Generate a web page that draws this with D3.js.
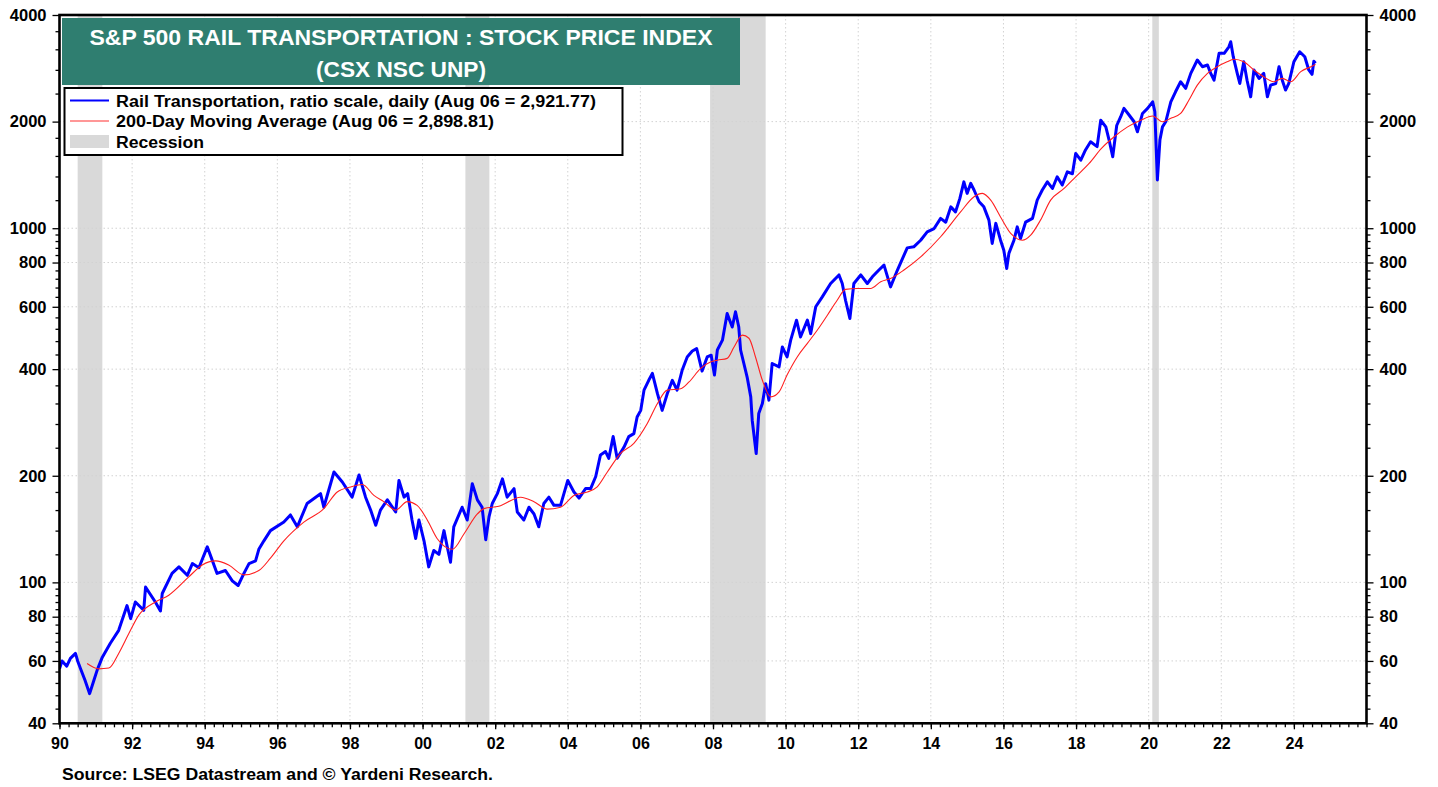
<!DOCTYPE html>
<html>
<head>
<meta charset="utf-8">
<script src="https://cdn.jsdelivr.net/npm/d3@7"></script>
<style>
  body { margin: 0; background: #fff; }
  svg { display: block; font-family: Arial, "Liberation Sans", sans-serif; }
</style>
</head>
<body>
<div id="chart"></div>
<script>
// S&P 500 Rail Transportation index (decimal year, index)
var railPrice = [
	[1990.00, 57], [1990.07, 60], [1990.2, 58], [1990.3, 61], [1990.44, 63], [1990.5, 60],
	[1990.58, 57], [1990.7, 53], [1990.83, 48.5], [1990.95, 53], [1991.04, 56.6], [1991.18, 61.5],
	[1991.40, 67.3], [1991.63, 73.2], [1991.86, 86], [1991.96, 79], [1992.09, 88], [1992.32, 83.4],
	[1992.37, 97], [1992.64, 88], [1992.78, 83], [1992.83, 93], [1993.10, 106], [1993.29, 110.6],
	[1993.52, 104.7], [1993.66, 113], [1993.84, 110], [1994.07, 126], [1994.16, 119], [1994.34, 106],
	[1994.57, 108], [1994.76, 101], [1994.92, 98], [1995.08, 106], [1995.22, 113], [1995.40, 115],
	[1995.49, 124], [1995.63, 131], [1995.81, 140], [1996.18, 148], [1996.36, 155], [1996.55, 143.5],
	[1996.82, 167], [1997.19, 178], [1997.28, 163], [1997.56, 205], [1997.79, 192], [1998.06, 174],
	[1998.25, 201], [1998.43, 174], [1998.57, 160], [1998.71, 145], [1998.84, 160], [1999.03, 171],
	[1999.26, 158], [1999.35, 194], [1999.49, 174], [1999.59, 178], [1999.71, 150], [1999.81, 133],
	[1999.90, 150], [2000.04, 131], [2000.17, 110.6], [2000.31, 123], [2000.45, 120], [2000.59, 140],
	[2000.68, 126], [2000.77, 114], [2000.86, 143.5], [2001.09, 163], [2001.23, 150], [2001.37, 190],
	[2001.51, 171], [2001.64, 163], [2001.74, 132], [2001.83, 153], [2001.92, 167], [2002.06, 178],
	[2002.20, 196], [2002.33, 174], [2002.52, 184], [2002.61, 158], [2002.79, 150], [2002.93, 163],
	[2003.07, 156], [2003.20, 143.5], [2003.34, 167], [2003.48, 174], [2003.62, 165], [2003.80, 165],
	[2004.00, 194], [2004.17, 180], [2004.31, 173], [2004.49, 184], [2004.63, 184], [2004.77, 199],
	[2004.90, 229], [2005.04, 234], [2005.13, 224], [2005.25, 258], [2005.36, 224], [2005.55, 241],
	[2005.68, 258], [2005.82, 263], [2005.91, 293], [2006.01, 306], [2006.10, 349], [2006.23, 372],
	[2006.33, 389], [2006.47, 341], [2006.60, 306], [2006.74, 341], [2006.88, 372], [2007.01, 349],
	[2007.15, 397], [2007.29, 433], [2007.43, 450], [2007.55, 457], [2007.70, 395], [2007.84, 433],
	[2007.95, 438], [2008.04, 385], [2008.12, 453], [2008.26, 483], [2008.39, 574], [2008.53, 526],
	[2008.62, 581], [2008.71, 526], [2008.76, 453], [2008.85, 415], [2008.94, 380], [2009.04, 334],
	[2009.08, 287], [2009.19, 231], [2009.26, 300], [2009.36, 320], [2009.45, 364], [2009.54, 327],
	[2009.63, 415], [2009.82, 406], [2009.91, 462], [2010.04, 433], [2010.14, 483], [2010.30, 550],
	[2010.41, 493], [2010.60, 550], [2010.69, 504], [2010.83, 600], [2011.01, 640], [2011.24, 698],
	[2011.47, 738], [2011.56, 698], [2011.65, 626], [2011.77, 556], [2011.88, 698], [2012.07, 738],
	[2012.25, 698], [2012.39, 729], [2012.57, 762], [2012.71, 787], [2012.89, 683], [2013.08, 762],
	[2013.35, 880], [2013.53, 886], [2013.72, 925], [2013.90, 977], [2014.09, 998], [2014.27, 1066],
	[2014.41, 1040], [2014.55, 1149], [2014.68, 1112], [2014.80, 1214], [2014.91, 1352], [2015.00, 1254],
	[2015.10, 1339], [2015.19, 1282], [2015.33, 1188], [2015.46, 1149], [2015.60, 1054], [2015.69, 906],
	[2015.79, 1032], [2015.92, 925], [2016.01, 867], [2016.09, 770], [2016.15, 849], [2016.29, 925],
	[2016.38, 1009], [2016.47, 935], [2016.61, 1040], [2016.80, 1066], [2016.93, 1200], [2017.07, 1282],
	[2017.21, 1352], [2017.35, 1295], [2017.48, 1397], [2017.62, 1324], [2017.76, 1443], [2017.90, 1425],
	[2017.99, 1626], [2018.13, 1556], [2018.26, 1663], [2018.40, 1754], [2018.58, 1700], [2018.68, 2018],
	[2018.82, 1933], [2018.91, 1774], [2019.01, 1591], [2019.12, 1950], [2019.23, 2065], [2019.32, 2179],
	[2019.46, 2088], [2019.60, 1998], [2019.69, 1872], [2019.83, 2109], [2019.97, 2179], [2020.11, 2275],
	[2020.17, 2133], [2020.24, 1368], [2020.31, 1774], [2020.38, 1933], [2020.47, 1998], [2020.61, 2275],
	[2020.74, 2428], [2020.88, 2592], [2021.02, 2483], [2021.16, 2737], [2021.34, 2985], [2021.48, 2858],
	[2021.62, 2890], [2021.71, 2737], [2021.80, 2618], [2021.94, 3118], [2022.08, 3118], [2022.21, 3253],
	[2022.26, 3363], [2022.33, 3050], [2022.44, 2737], [2022.51, 2563], [2022.62, 2951], [2022.71, 2618],
	[2022.81, 2350], [2022.90, 2798], [2023.04, 2649], [2023.17, 2737], [2023.27, 2350], [2023.36, 2535],
	[2023.50, 2563], [2023.59, 2858], [2023.68, 2618], [2023.77, 2455], [2023.86, 2563], [2024.00, 2951],
	[2024.16, 3150], [2024.30, 3050], [2024.41, 2798], [2024.50, 2720], [2024.55, 2960], [2024.596, 2922]
];

// 200-day moving average
var railMA = [
	[1990.76, 59], [1991.08, 57], [1991.36, 57.3], [1991.63, 63], [1991.91, 71.7], [1992.18, 80.7],
	[1992.64, 88], [1993.01, 92], [1993.56, 103.6], [1993.93, 112], [1994.30, 115], [1994.66, 112],
	[1995.08, 105], [1995.49, 108], [1995.81, 117], [1996.18, 131], [1996.73, 148], [1997.28, 161.5],
	[1997.65, 180], [1998.02, 186], [1998.34, 189], [1998.66, 176], [1998.93, 169], [1999.26, 160],
	[1999.58, 169], [1999.85, 165], [2000.13, 150], [2000.40, 133], [2000.82, 124], [2001.14, 137],
	[2001.51, 156], [2001.69, 161.5], [2002.10, 164], [2002.70, 174], [2003.07, 169], [2003.43, 161],
	[2003.80, 163], [2004.17, 176], [2004.54, 180], [2004.81, 186], [2005.09, 205], [2005.45, 231],
	[2005.82, 247], [2006.19, 281], [2006.47, 320], [2006.74, 349], [2007.11, 352], [2007.34, 368],
	[2007.66, 402], [2007.93, 419], [2008.12, 424], [2008.39, 429], [2008.58, 462], [2008.81, 499],
	[2008.99, 489], [2009.17, 433], [2009.36, 372], [2009.59, 334], [2009.82, 345], [2010.04, 385],
	[2010.32, 433], [2010.60, 473], [2010.87, 515], [2011.15, 568], [2011.42, 626], [2011.65, 672],
	[2011.97, 676], [2012.34, 676], [2012.62, 706], [2012.89, 721], [2013.26, 762], [2013.72, 830],
	[2014.27, 946], [2014.82, 1112], [2015.19, 1227], [2015.42, 1254], [2015.65, 1200], [2015.92, 1076],
	[2016.20, 967], [2016.52, 925], [2016.75, 956], [2017.02, 1054], [2017.30, 1200], [2017.67, 1295],
	[2017.99, 1397], [2018.36, 1524], [2018.70, 1680], [2019.05, 1812], [2019.42, 1933], [2019.78, 2018],
	[2020.11, 2074], [2020.38, 1998], [2020.61, 2043], [2020.88, 2109], [2021.11, 2301], [2021.34, 2535],
	[2021.62, 2737], [2021.89, 2858], [2022.16, 2951], [2022.34, 2999], [2022.62, 2951], [2022.90, 2798],
	[2023.17, 2677], [2023.45, 2592], [2023.68, 2649], [2023.91, 2592], [2024.19, 2767], [2024.47, 2858],
	[2024.596, 2899]
];

var recessions = [[1990.5, 1991.18], [2001.18, 2001.84], [2007.92, 2009.45], [2020.1, 2020.28]];

var yLabels = [40, 60, 80, 100, 200, 400, 600, 800, 1000, 2000, 4000];
var yGrid = [60, 80, 100, 200, 400, 600, 800, 1000, 2000];
var yMinor = [44, 48, 52, 56, 64, 68, 72, 76, 84, 88, 92, 96, 120, 140, 160, 180,
	240, 280, 320, 360, 440, 480, 520, 560, 640, 680, 720, 760, 840, 880, 920, 960,
	1200, 1400, 1600, 1800, 2400, 2800, 3200, 3600];
var xLabels = d3.range(1990, 2025, 2);
var xMinor = d3.range(1990, 2026.01, 0.25);

var titleLines = ["S&P 500 RAIL TRANSPORTATION : STOCK PRICE INDEX", "(CSX NSC UNP)"];
var legendItems = [
	{ label: "Rail Transportation, ratio scale, daily (Aug 06 = 2,921.77)", kind: "line", color: "#0000ff" },
	{ label: "200-Day Moving Average (Aug 06 = 2,898.81)", kind: "line", color: "#ff3030" },
	{ label: "Recession", kind: "box", color: "#d9d9d9" }
];
var sourceText = "Source: LSEG Datastream and \u00a9 Yardeni Research.";

var W = 1438, H = 787;
// plot box (window.top is read-only, so keep these names distinct)
var plotL = 59.5, plotR = 1366.5, plotT = 15, plotB = 723.3;

var svg = d3.select('#chart').append('svg')
	.attr('width', W).attr('height', H);

var x = d3.scaleLinear().domain([1990, 2026]).range([plotL, plotR]);
var y = d3.scaleLog().domain([40, 4000]).range([plotB, plotT]);

svg.append('clipPath').attr('id', 'plot-clip')
	.append('rect')
	.attr('x', plotL).attr('y', plotT)
	.attr('width', plotR - plotL).attr('height', plotB - plotT);

// recession bands
svg.append('g').selectAll('rect')
	.data(recessions)
	.enter().append('rect')
	.attr('x', d => x(d[0]))
	.attr('width', d => x(d[1]) - x(d[0]))
	.attr('y', plotT)
	.attr('height', plotB - plotT)
	.attr('fill', '#d9d9d9');

// dotted grid
var grid = svg.append('g').attr('class', 'grid')
	.attr('stroke', '#d2d2d2')
	.attr('stroke-width', 1)
	.attr('stroke-dasharray', '1.5,2.5');
grid.selectAll('line.h')
	.data(yGrid)
	.enter().append('line')
	.attr('class', 'h')
	.attr('x1', plotL).attr('x2', plotR)
	.attr('y1', d => y(d)).attr('y2', d => y(d));
grid.selectAll('line.v')
	.data(xLabels.slice(1))
	.enter().append('line')
	.attr('class', 'v')
	.attr('y1', plotT).attr('y2', plotB)
	.attr('x1', d => x(d)).attr('x2', d => x(d));

// series
var line = d3.line()
	.x(d => x(d[0]))
	.y(d => y(d[1]));

var gLines = svg.append('g').attr('clip-path', 'url(#plot-clip)');
gLines.append('path')
	.datum(railPrice)
	.attr('fill', 'none')
	.attr('stroke', '#0000ff')
	.attr('stroke-width', 3)
	.attr('stroke-linejoin', 'round')
	.attr('d', line);
gLines.append('path')
	.datum(railMA)
	.attr('fill', 'none')
	.attr('stroke', '#ff2020')
	.attr('stroke-width', 1.1)
	.attr('d', line.curve(d3.curveMonotoneX));

// axes
function styleAxis(g, size){
	g.select('.domain').remove();
	g.selectAll('line').attr('stroke', '#000').attr('stroke-width', 1.3);
	g.selectAll('text')
		.attr('fill', '#000')
		.attr('font-size', size)
		.attr('font-weight', 'bold')
		.attr('font-family', 'Arial, "Liberation Sans", sans-serif');
}

svg.append('g')
	.attr('transform', 'translate(' + plotL + ',0)')
	.call(d3.axisLeft(y).tickValues(yLabels).tickSize(7).tickPadding(6).tickFormat(d3.format('d')))
	.call(styleAxis, 16.5);
svg.append('g')
	.attr('transform', 'translate(' + plotL + ',0)')
	.call(d3.axisLeft(y).tickValues(yMinor).tickSize(4).tickFormat(''))
	.call(styleAxis, 16);
svg.append('g')
	.attr('transform', 'translate(' + plotR + ',0)')
	.call(d3.axisRight(y).tickValues(yLabels).tickSize(7).tickPadding(6).tickFormat(d3.format('d')))
	.call(styleAxis, 16.5);
svg.append('g')
	.attr('transform', 'translate(' + plotR + ',0)')
	.call(d3.axisRight(y).tickValues(yMinor).tickSize(4).tickFormat(''))
	.call(styleAxis, 16);

svg.append('g')
	.attr('transform', 'translate(0,' + plotB + ')')
	.call(d3.axisBottom(x).tickValues(xMinor).tickSize(4).tickFormat(''))
	.call(styleAxis, 16);
svg.append('g')
	.attr('transform', 'translate(0,' + plotB + ')')
	.call(d3.axisBottom(x).tickValues(xLabels).tickSize(6).tickPadding(8)
		.tickFormat(d => d3.format('02d')(d % 100)))
	.call(styleAxis, 16);

// plot frame
svg.append('rect')
	.attr('x', plotL).attr('y', plotT)
	.attr('width', plotR - plotL).attr('height', plotB - plotT)
	.attr('fill', 'none')
	.attr('stroke', '#000')
	.attr('stroke-width', 2.6);

// title box
svg.append('rect')
	.attr('x', 62).attr('y', 18)
	.attr('width', 678).attr('height', 67)
	.attr('fill', '#2f7e70');
svg.selectAll('text.title')
	.data(titleLines)
	.enter().append('text')
	.attr('class', 'title')
	.attr('x', 401)
	.attr('y', (d, i) => 45 + i * 31.5)
	.attr('text-anchor', 'middle')
	.attr('fill', '#fff')
	.attr('font-size', 22)
	.attr('font-weight', 'bold')
	.attr('textLength', (d, i) => i ? 170 : 623)
	.attr('lengthAdjust', 'spacingAndGlyphs')
	.text(d => d);

// legend
var gLegend = svg.append('g');
gLegend.append('rect')
	.attr('x', 64.5).attr('y', 88)
	.attr('width', 558).attr('height', 67)
	.attr('fill', '#fff')
	.attr('stroke', '#000')
	.attr('stroke-width', 2);
var items = gLegend.selectAll('g.item')
	.data(legendItems)
	.enter().append('g')
	.attr('class', 'item')
	.attr('transform', (d, i) => 'translate(0,' + (100.5 + i * 20.5) + ')');
items.filter(d => d.kind == 'line').append('line')
	.attr('x1', 70).attr('x2', 109)
	.attr('stroke', d => d.color)
	.attr('stroke-width', (d, i) => i ? 1.2 : 1.8);
items.filter(d => d.kind == 'box').append('rect')
	.attr('x', 70).attr('y', -6.5)
	.attr('width', 39).attr('height', 13)
	.attr('fill', d => d.color);
items.append('text')
	.attr('x', 116).attr('y', 6)
	.attr('font-size', 16)
	.attr('font-weight', 'bold')
	.attr('textLength', (d, i) => [480, 378, 88][i])
	.attr('lengthAdjust', 'spacingAndGlyphs')
	.text(d => d.label);

// source note
svg.append('text')
	.attr('x', 62).attr('y', 779.5)
	.attr('font-size', 16)
	.attr('font-weight', 'bold')
	.attr('textLength', 431)
	.attr('lengthAdjust', 'spacingAndGlyphs')
	.text(sourceText);
</script>
</body>
</html>
